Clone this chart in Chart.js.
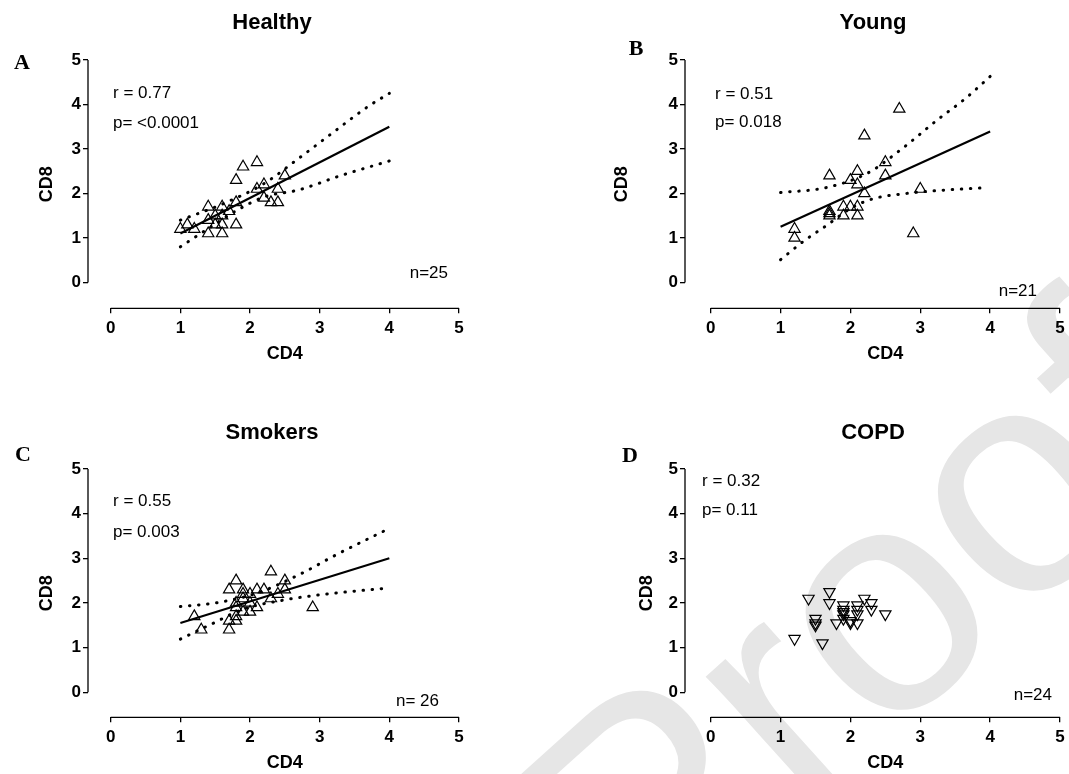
<!DOCTYPE html>
<html>
<head>
<meta charset="utf-8">
<script src="https://cdn.jsdelivr.net/npm/chart.js@4.4.0/dist/chart.umd.min.js"></script>
<style>
  body { margin: 0; width: 1069px; height: 774px; overflow: hidden; background: #fff; position: relative;
         font-family: "Liberation Sans", Arial, sans-serif; color: #000; }
  canvas { position: absolute; }
  .t { position: absolute; white-space: nowrap; line-height: 1; }
  .title { font-size: 22px; font-weight: bold; transform: translate(-50%, -50%); }
  .letter { font-family: "Liberation Serif", "Times New Roman", serif; font-size: 22px; font-weight: bold; transform: translate(-50%, -50%); }
  .stat { font-size: 17px; transform: translate(0, -50%); }
  .nval { font-size: 17px; transform: translate(-100%, -50%); }
  #wm { position: absolute; left: 463px; top: 758px; font-size: 320px; line-height: 1; color: #e6e6e6;
        transform-origin: 0 0; transform: rotate(-42deg); white-space: nowrap; }
</style>
</head>
<body>
<div id="wm">Proof</div>

<canvas id="cHealthy" width="534" height="400" style="left:0px;top:0px"></canvas>
<canvas id="cYoung" width="566" height="400" style="left:534px;top:0px"></canvas>
<canvas id="cSmokers" width="534" height="420" style="left:0px;top:387px"></canvas>
<canvas id="cCopd" width="566" height="420" style="left:534px;top:387px"></canvas>

<div class="t title" style="left:272px;top:22px">Healthy</div>
<div class="t title" style="left:873px;top:22px">Young</div>
<div class="t title" style="left:272px;top:432px">Smokers</div>
<div class="t title" style="left:873px;top:432px">COPD</div>

<div class="t letter" style="left:22px;top:62px">A</div>
<div class="t letter" style="left:636px;top:48px">B</div>
<div class="t letter" style="left:23px;top:454px">C</div>
<div class="t letter" style="left:630px;top:455px">D</div>

<div class="t stat" style="left:113px;top:92px">r = 0.77</div>
<div class="t stat" style="left:113px;top:122px">p= &lt;0.0001</div>
<div class="t nval" style="left:448px;top:272px">n=25</div>

<div class="t stat" style="left:715px;top:93px">r = 0.51</div>
<div class="t stat" style="left:715px;top:121px">p= 0.018</div>
<div class="t nval" style="left:1037px;top:290px">n=21</div>

<div class="t stat" style="left:113px;top:500px">r = 0.55</div>
<div class="t stat" style="left:113px;top:531px">p= 0.003</div>
<div class="t nval" style="left:439px;top:700px">n= 26</div>

<div class="t stat" style="left:702px;top:480px">r = 0.32</div>
<div class="t stat" style="left:702px;top:509px">p= 0.11</div>
<div class="t nval" style="left:1052px;top:694px">n=24</div>

<script>
// ---- data ----
const axisTicks = [0, 1, 2, 3, 4, 5];

// Healthy (n=25)
const healthyCD4 = [1.0, 1.1, 1.2, 1.4, 1.4, 1.4, 1.5, 1.5, 1.6, 1.6, 1.6, 1.6, 1.7, 1.8, 1.8, 1.8, 1.9, 2.1, 2.1, 2.2, 2.2, 2.3, 2.4, 2.4, 2.5];
const healthyCD8 = [1.2, 1.3, 1.2, 1.7, 1.4, 1.1, 1.3, 1.5, 1.7, 1.5, 1.3, 1.1, 1.6, 1.8, 2.3, 1.3, 2.6, 2.7, 2.1, 2.2, 1.9, 1.8, 2.1, 1.8, 2.4];
const healthyFitX = [1.0, 4.0];
const healthyFitY = [1.1, 3.5];
const healthyUpperX = [1.0, 1.6, 2.2, 2.7, 3.2, 3.7, 4.0];
const healthyUpperY = [1.40, 1.76, 2.22, 2.79, 3.38, 3.96, 4.25];
const healthyLowerX = [1.0, 1.4, 1.8, 2.2, 2.7, 3.3, 4.0];
const healthyLowerY = [0.80, 1.21, 1.61, 1.92, 2.08, 2.40, 2.73];

// Young (n=21)
const youngCD4 = [1.2, 1.2, 1.7, 1.7, 1.7, 1.7, 1.9, 1.9, 2.0, 2.0, 2.1, 2.1, 2.1, 2.1, 2.2, 2.2, 2.5, 2.5, 2.7, 2.9, 3.0];
const youngCD8 = [1.2, 1.0, 2.4, 1.6, 1.55, 1.5, 1.7, 1.5, 2.3, 1.7, 2.5, 2.2, 1.7, 1.5, 3.3, 2.0, 2.7, 2.4, 3.9, 1.1, 2.1];
const youngFitX = [1.0, 4.0];
const youngFitY = [1.25, 3.39];
const youngUpperX = [1.0, 1.65, 2.25, 2.75, 3.25, 3.65, 4.0];
const youngUpperY = [2.02, 2.13, 2.46, 3.02, 3.66, 4.14, 4.63];
const youngLowerX = [1.0, 1.35, 1.65, 2.0, 2.3, 2.8, 3.3, 3.95];
const youngLowerY = [0.51, 0.95, 1.27, 1.66, 1.87, 2.0, 2.07, 2.13];

// Smokers (n=26)
const smokersCD4 = [1.2, 1.3, 1.7, 1.7, 1.7, 1.8, 1.8, 1.8, 1.8, 1.8, 1.9, 1.9, 1.9, 1.9, 2.0, 2.0, 2.1, 2.1, 2.2, 2.3, 2.3, 2.4, 2.5, 2.5, 2.9, 2.0];
const smokersCD8 = [1.7, 1.4, 1.4, 2.3, 1.6, 2.5, 2.0, 1.9, 1.7, 1.6, 2.3, 2.2, 1.8, 2.1, 2.0, 1.8, 2.3, 1.9, 2.3, 2.7, 2.1, 2.2, 2.5, 2.3, 1.9, 2.2];
const smokersFitX = [1.0, 4.0];
const smokersFitY = [1.55, 3.0];
const smokersUpperX = [1.0, 1.5, 2.1, 2.7, 3.25, 4.0];
const smokersUpperY = [1.92, 2.0, 2.22, 2.63, 3.09, 3.67];
const smokersLowerX = [1.0, 1.45, 1.9, 2.5, 3.1, 3.95];
const smokersLowerY = [1.19, 1.53, 1.86, 2.07, 2.20, 2.33];

// COPD (n=24)
const copdCD4 = [1.2, 1.4, 1.5, 1.5, 1.5, 1.6, 1.7, 1.7, 1.8, 1.9, 1.9, 1.9, 1.9, 1.9, 2.0, 2.0, 2.1, 2.1, 2.1, 2.1, 2.2, 2.3, 2.3, 2.5];
const copdCD8 = [1.2, 2.1, 1.65, 1.55, 1.5, 1.1, 2.25, 2.0, 1.55, 1.95, 1.85, 1.75, 1.65, 1.8, 1.55, 1.6, 1.95, 1.75, 1.55, 1.85, 2.1, 2.0, 1.85, 1.75];

const pairs = (xs, ys) => xs.map((x, i) => ({ x: x, y: ys[i] }));

Chart.defaults.font.family = "'Liberation Sans', Arial, sans-serif";
Chart.defaults.color = '#000';

// draws the detached prism-style axis lines from 0 to 5 on each scale
const axisLines = {
  id: 'axisLines',
  afterDraw(chart) {
    const { ctx, chartArea, scales } = chart;
    const lo = axisTicks[0], hi = axisTicks[axisTicks.length - 1];
    ctx.save();
    ctx.strokeStyle = '#000';
    ctx.lineWidth = 1.3;
    ctx.beginPath();
    ctx.moveTo(chartArea.left, scales.y.getPixelForValue(lo));
    ctx.lineTo(chartArea.left, scales.y.getPixelForValue(hi));
    ctx.moveTo(scales.x.getPixelForValue(lo), chartArea.bottom);
    ctx.lineTo(scales.x.getPixelForValue(hi), chartArea.bottom);
    ctx.stroke();
    ctx.restore();
  }
};

function makePanel(id, p) {
  const datasets = [{
    data: pairs(p.cd4, p.cd8),
    pointStyle: 'triangle',
    rotation: p.rotation || 0,
    pointRadius: 6.5,
    pointBorderWidth: 1.2,
    pointBorderColor: '#000',
    pointBackgroundColor: 'rgba(255,255,255,0)',
    showLine: false,
    clip: false
  }];
  if (p.fit) {
    datasets.push({
      type: 'line', data: pairs(p.fit[0], p.fit[1]),
      borderColor: '#000', borderWidth: 2.2, pointRadius: 0, fill: false
    });
    [p.upper, p.lower].forEach(b => datasets.push({
      type: 'line', data: pairs(b[0], b[1]),
      borderColor: '#000', borderWidth: 3, borderDash: [0.5, 8.6], borderCapStyle: 'round',
      cubicInterpolationMode: 'monotone', pointRadius: 0, fill: false
    }));
  }

  const tickGrid = { display: true, drawOnChartArea: false, drawTicks: true, tickLength: 5, color: '#000', lineWidth: 1.3 };

  new Chart(document.getElementById(id), {
    type: 'scatter',
    data: { datasets: datasets },
    options: {
      responsive: false,
      animation: false,
      devicePixelRatio: 1,
      layout: { padding: p.pad },
      plugins: { legend: { display: false }, tooltip: { enabled: false } },
      scales: {
        x: {
          type: 'linear', min: p.xRange[0], max: p.xRange[1],
          afterBuildTicks: s => { s.ticks = axisTicks.map(v => ({ value: v })); },
          afterFit: s => { s.height = p.xH; },
          grid: tickGrid,
          border: { display: false },
          ticks: { font: { size: 17, weight: 'bold' }, padding: 5, maxRotation: 0 },
          title: { display: true, text: 'CD4', font: { size: 18, weight: 'bold' }, padding: { top: 0, bottom: 3 } }
        },
        y: {
          type: 'linear', min: p.yRange[0], max: p.yRange[1],
          afterBuildTicks: s => { s.ticks = axisTicks.map(v => ({ value: v })); },
          afterFit: s => { s.width = p.yW; },
          grid: tickGrid,
          border: { display: false },
          ticks: { font: { size: 17, weight: 'bold' }, padding: 2 },
          title: { display: true, text: 'CD8', font: { size: 18, weight: 'bold' }, padding: { top: 3, bottom: 0 } }
        }
      }
    },
    plugins: [axisLines]
  });
}

makePanel('cHealthy', {
  cd4: healthyCD4, cd8: healthyCD8,
  fit: [healthyFitX, healthyFitY], upper: [healthyUpperX, healthyUpperY], lower: [healthyLowerX, healthyLowerY],
  xRange: [-0.326, 5.326], yRange: [-0.582, 5],
  yW: 55, xH: 59.5,
  pad: { left: 33, top: 60, right: 52.3, bottom: 32.2 }
});
makePanel('cYoung', {
  cd4: youngCD4, cd8: youngCD8,
  fit: [youngFitX, youngFitY], upper: [youngUpperX, youngUpperY], lower: [youngLowerX, youngLowerY],
  xRange: [-0.368, 5.368], yRange: [-0.582, 5],
  yW: 77, xH: 59.5,
  pad: { left: 74, top: 60, right: 14.3, bottom: 32.2 }
});
makePanel('cSmokers', {
  cd4: smokersCD4, cd8: smokersCD8,
  fit: [smokersFitX, smokersFitY], upper: [smokersUpperX, smokersUpperY], lower: [smokersLowerX, smokersLowerY],
  xRange: [-0.326, 5.326], yRange: [-0.56, 5],
  yW: 55, xH: 59.5,
  pad: { left: 33, top: 82, right: 52.3, bottom: 30.2 }
});
makePanel('cCopd', {
  cd4: copdCD4, cd8: copdCD8, rotation: 180,
  xRange: [-0.368, 5.368], yRange: [-0.56, 5],
  yW: 52, xH: 59.5,
  pad: { left: 99, top: 82, right: 14.3, bottom: 30.2 }
});
</script>
</body>
</html>
